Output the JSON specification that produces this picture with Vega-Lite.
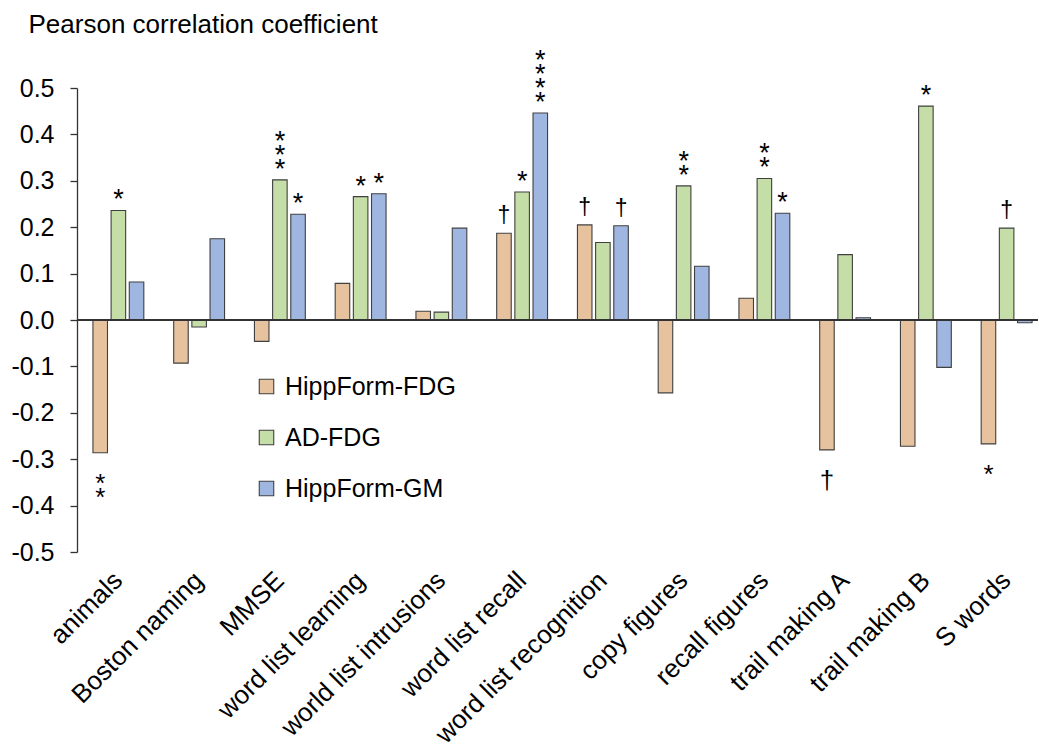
{
  "$schema": "https://vega.github.io/schema/vega-lite/v6.json",
  "autosize": {"type": "none"},
  "padding": {"left": 77, "top": 88, "right": 1, "bottom": 196},
  "width": 961,
  "height": 464,
  "config": {"font": "Liberation Sans", "view": {"stroke": null}},
  "data": {"values": [
    {"test": "animals", "series": "HippForm-FDG", "r": -0.286, "sig": "* *"},
    {"test": "animals", "series": "AD-FDG", "r": 0.236, "sig": "*"},
    {"test": "animals", "series": "HippForm-GM", "r": 0.082, "sig": ""},
    {"test": "Boston naming", "series": "HippForm-FDG", "r": -0.093, "sig": ""},
    {"test": "Boston naming", "series": "AD-FDG", "r": -0.015, "sig": ""},
    {"test": "Boston naming", "series": "HippForm-GM", "r": 0.175, "sig": ""},
    {"test": "MMSE", "series": "HippForm-FDG", "r": -0.046, "sig": ""},
    {"test": "MMSE", "series": "AD-FDG", "r": 0.302, "sig": "* * *"},
    {"test": "MMSE", "series": "HippForm-GM", "r": 0.228, "sig": "*"},
    {"test": "word list learning", "series": "HippForm-FDG", "r": 0.079, "sig": ""},
    {"test": "word list learning", "series": "AD-FDG", "r": 0.266, "sig": "*"},
    {"test": "word list learning", "series": "HippForm-GM", "r": 0.272, "sig": "*"},
    {"test": "world list intrusions", "series": "HippForm-FDG", "r": 0.019, "sig": ""},
    {"test": "world list intrusions", "series": "AD-FDG", "r": 0.017, "sig": ""},
    {"test": "world list intrusions", "series": "HippForm-GM", "r": 0.198, "sig": ""},
    {"test": "word list recall", "series": "HippForm-FDG", "r": 0.187, "sig": "†"},
    {"test": "word list recall", "series": "AD-FDG", "r": 0.276, "sig": "*"},
    {"test": "word list recall", "series": "HippForm-GM", "r": 0.446, "sig": "* * * *"},
    {"test": "word list recognition", "series": "HippForm-FDG", "r": 0.205, "sig": "†"},
    {"test": "word list recognition", "series": "AD-FDG", "r": 0.167, "sig": ""},
    {"test": "word list recognition", "series": "HippForm-GM", "r": 0.203, "sig": "†"},
    {"test": "copy figures", "series": "HippForm-FDG", "r": -0.157, "sig": ""},
    {"test": "copy figures", "series": "AD-FDG", "r": 0.289, "sig": "* *"},
    {"test": "copy figures", "series": "HippForm-GM", "r": 0.116, "sig": ""},
    {"test": "recall figures", "series": "HippForm-FDG", "r": 0.047, "sig": ""},
    {"test": "recall figures", "series": "AD-FDG", "r": 0.305, "sig": "* *"},
    {"test": "recall figures", "series": "HippForm-GM", "r": 0.23, "sig": "*"},
    {"test": "trail making A", "series": "HippForm-FDG", "r": -0.28, "sig": "†"},
    {"test": "trail making A", "series": "AD-FDG", "r": 0.141, "sig": ""},
    {"test": "trail making A", "series": "HippForm-GM", "r": 0.005, "sig": ""},
    {"test": "trail making B", "series": "HippForm-FDG", "r": -0.272, "sig": ""},
    {"test": "trail making B", "series": "AD-FDG", "r": 0.461, "sig": "*"},
    {"test": "trail making B", "series": "HippForm-GM", "r": -0.102, "sig": ""},
    {"test": "S words", "series": "HippForm-FDG", "r": -0.267, "sig": "*"},
    {"test": "S words", "series": "AD-FDG", "r": 0.198, "sig": "†"},
    {"test": "S words", "series": "HippForm-GM", "r": -0.006, "sig": ""}
  ]},
  "encoding": {
    "x": {
      "field": "test", "type": "nominal", "sort": null,
      "scale": {"range": [1, 970], "paddingInner": 0.37, "paddingOuter": 0.185},
      "axis": {
        "title": null, "domain": false, "ticks": false,
        "labelAngle": -45, "labelAlign": "right", "labelBaseline": "middle",
        "labelFontSize": 26, "labelColor": "#000000", "labelPadding": 24,
        "labelLimit": 500, "labelOverlap": false
      }
    },
    "xOffset": {
      "field": "series", "type": "nominal",
      "sort": ["HippForm-FDG", "AD-FDG", "HippForm-GM"],
      "scale": {"paddingInner": 0.2, "paddingOuter": 0}
    },
    "y": {
      "field": "r", "type": "quantitative",
      "scale": {"domain": [-0.5, 0.5], "nice": false, "zero": false},
      "axis": {
        "title": "Pearson correlation coefficient",
        "titleAngle": 0, "titleAlign": "left", "titleBaseline": "alphabetic",
        "titleX": -49, "titleY": -56, "titleFontSize": 26, "titleFontWeight": "normal",
        "titleColor": "#000000",
        "values": [-0.5, -0.4, -0.3, -0.2, -0.1, 0, 0.1, 0.2, 0.3, 0.4, 0.5],
        "labelExpr": "replace(format(datum.value, '.1f'), '\u2212', '-')",
        "labelFontSize": 25, "labelColor": "#000000", "labelPadding": 16,
        "tickSize": 7, "tickColor": "#333333", "domainColor": "#333333",
        "domainWidth": 1.3, "tickWidth": 1.3, "grid": false
      }
    }
  },
  "layer": [
    {
      "mark": {"type": "bar", "stroke": "#404040", "strokeWidth": 1.1},
      "encoding": {
        "fill": {
          "field": "series", "type": "nominal",
          "scale": {
            "domain": ["HippForm-FDG", "AD-FDG", "HippForm-GM"],
            "range": ["#E6C29F", "#C5DDA6", "#9FB6E0"]
          },
          "legend": {
            "title": null, "orient": "none", "legendX": 177, "legendY": 286,
            "labelFontSize": 25, "labelColor": "#000000", "labelOffset": 6,
            "labelLimit": 400,
            "symbolType": "square", "symbolSize": 210,
            "symbolStrokeColor": "#404040", "symbolStrokeWidth": 1.1,
            "rowPadding": 25
          }
        }
      }
    },
    {
      "mark": {"type": "rule", "color": "#333333", "strokeWidth": 1.4},
      "encoding": {"y": {"datum": 0}, "x": null, "xOffset": null}
    },
    {
      "transform": [{"filter": "datum.r > 0 && indexof(datum.sig, '*') >= 0"}],
      "mark": {"type": "text", "baseline": "bottom", "fontSize": 27, "lineBreak": " ", "lineHeight": 14, "color": "#000000",
        "dy": {"expr": "4 - 7 * (length(datum.sig) - 1)"}},
      "encoding": {"text": {"field": "sig"}}
    },
    {
      "transform": [{"filter": "datum.r > 0 && datum.sig == '†'"}],
      "mark": {"type": "text", "baseline": "bottom", "fontSize": 23, "dy": -5, "color": "#000000"},
      "encoding": {"text": {"field": "sig"}}
    },
    {
      "transform": [{"filter": "datum.r < 0 && datum.sig != ''"}],
      "mark": {"type": "text", "baseline": "top", "fontSize": 26, "dy": 18, "lineBreak": " ", "lineHeight": 14, "color": "#000000"},
      "encoding": {"text": {"field": "sig"}}
    }
  ]
}
